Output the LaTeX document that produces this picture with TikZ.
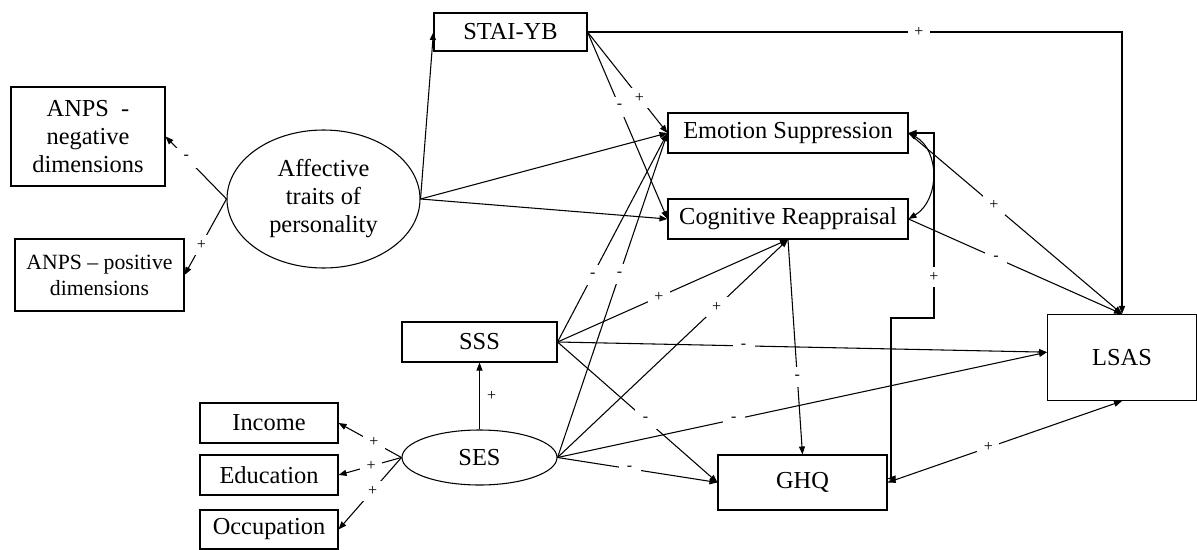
\documentclass[tikz,border=0pt]{standalone}
\usepackage{fontspec}
\setmainfont{Liberation Serif}
\usetikzlibrary{shapes.geometric,arrows.meta}
\newcommand{\px}{0.75pt}
\begin{document}
\begin{tikzpicture}[x=\px,y=-\px,
  box/.style={draw, rectangle, inner sep=0pt, line width=0.8pt, align=center, font=\fontsize{18.3}{21}\selectfont},
  oval/.style={box, ellipse},
  lab/.style={fill=white, inner sep=0pt, minimum width=22*\px, minimum height=20*\px, font=\fontsize{12}{14}\selectfont},
  conn/.style={draw, line width=0.8pt, -{Triangle[length=6pt,width=4.5pt]}},
  both/.style={{Triangle[length=6pt,width=4.5pt]}-{Triangle[length=6pt,width=4.5pt]}}]
\useasboundingbox (0,0) rectangle (1197,550);

\node[box, minimum width=154*\px, minimum height=99*\px] (anpsn) at (88,136.5) {ANPS\ \ -\\negative\\dimensions};
\node[box, minimum width=169*\px, minimum height=72*\px, font=\fontsize{16.3}{19.5}\selectfont] (anpsp) at (99.5,275) {ANPS – positive\\dimensions};
\node[oval, minimum width=193*\px, minimum height=138*\px] (aff) at (323.5,199) {Affective\\traits of\\personality};
\node[box, minimum width=153*\px, minimum height=38*\px] (stai) at (510.5,32) {STAI-YB};
\node[box, minimum width=240*\px, minimum height=40*\px] (es) at (788,133) {Emotion Suppression};
\node[box, minimum width=240*\px, minimum height=40*\px] (cr) at (788,219) {Cognitive Reappraisal};
\node[box, minimum width=155*\px, minimum height=40*\px] (sss) at (479.5,342) {SSS};
\node[oval, minimum width=155*\px, minimum height=55*\px] (ses) at (479.5,457.5) {SES};
\node[box, minimum width=138*\px, minimum height=40*\px] (inc) at (269,423) {Income};
\node[box, minimum width=138*\px, minimum height=40*\px] (edu) at (269,475) {Education};
\node[box, minimum width=138*\px, minimum height=39*\px] (occ) at (269,529.5) {Occupation};
\node[box, minimum width=169*\px, minimum height=55*\px] (ghq) at (802.5,482.5) {GHQ};
\node[box, minimum width=149*\px, minimum height=86*\px] (lsas) at (1122,357.5) {LSAS};

\path[conn] (aff.west) -- node[lab,pos=0.66] {-} (anpsn.east);
\path[conn] (aff.west) -- node[lab,pos=0.6] {+} (anpsp.east);
\path[conn] (aff.east) -- (stai.west);
\path[conn] (aff.east) -- (es.west);
\path[conn] (aff.east) -- (cr.west);
\path[conn] (stai.east) -- node[lab,pos=0.65] {+} (es.west);
\path[conn] (stai.east) -- node[lab,pos=0.4] {-} (cr.west);
\path[conn] (stai.east) -| node[lab,pos=0.31] {+} (lsas.north);
\path[conn] (sss.east) -- node[lab,pos=0.32] {-} (es.west);
\path[conn] (ses.east) -- node[lab,pos=0.565] {-} (es.west);
\path[conn] (sss.east) -- node[lab,pos=0.44] {+} (cr.south);
\path[conn] (ses.east) -- node[lab,pos=0.69] {+} (cr.south);
\path[conn] (sss.east) -- node[lab,pos=0.38] {-} ([yshift=4pt]lsas.west);
\path[conn] (ses.east) -- node[lab,pos=0.36] {-} ([yshift=4pt]lsas.west);
\path[conn] (sss.east) -- node[lab,pos=0.55] {-} (ghq.west);
\path[conn] (ses.east) -- node[lab,pos=0.45] {-} (ghq.west);
\path[conn] (cr.south) -- node[lab,pos=0.64] {-} (ghq.north);
\path[conn] (es.east) -- node[lab,pos=0.4] {+} (lsas.north);
\path[conn] (cr.east) -- node[lab,pos=0.41] {-} (lsas.north);
\path[conn,both] (ghq.east) -- node[lab,pos=0.43] {+} (lsas.south);
\path[conn,both] (es.east) .. controls (940,150) and (940,200) .. (cr.east);
\path[conn,both] (es.east) -- (934,133) -- node[lab,pos=0.78] {+} (934,318) -- (891,318) |- ([yshift=3pt]ghq.east);
\path[conn] (ses.north) -- node[right=2pt, font=\fontsize{12}{14}\selectfont] {+} (sss.south);
\path[conn] (ses.west) -- node[lab,pos=0.44] {+} (inc.east);
\path[conn] (ses.west) -- node[lab,pos=0.48] {+} (edu.east);
\path[conn] (ses.west) -- node[lab,pos=0.46] {+} (occ.east);
\end{tikzpicture}
\end{document}
